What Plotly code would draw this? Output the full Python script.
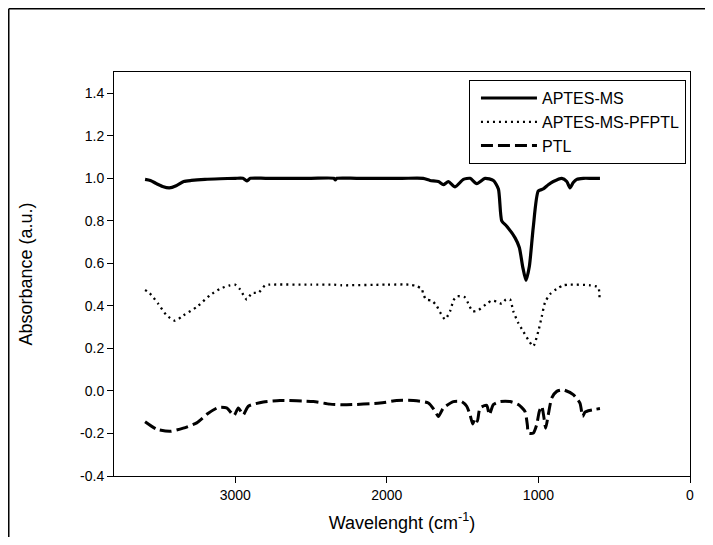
import plotly.graph_objects as go

# ---- data ----
aptes_x = [3595, 3560, 3520, 3480, 3435, 3390, 3340, 3290, 3200, 3100, 3000, 2950, 2924, 2900, 2800,
           2500, 2350, 2340, 2330, 2200, 1900, 1760, 1715, 1660, 1627, 1594, 1550, 1495, 1451, 1407,
           1352, 1297, 1264, 1242, 1209, 1154, 1126, 1104, 1082, 1060, 1034, 1001, 968, 935, 902,
           846, 813, 792, 770, 747, 704, 650, 594]
aptes_y = [0.995, 0.99, 0.975, 0.962, 0.955, 0.965, 0.985, 0.99, 0.995, 0.998, 1.0, 1.0, 0.988, 1.0, 1.0,
           1.0, 1.0, 0.993, 1.0, 1.0, 1.0, 1.0, 0.99, 0.985, 0.97, 0.985, 0.96, 0.995, 1.0, 0.975,
           1.0, 0.99, 0.95, 0.80, 0.775, 0.72, 0.675, 0.585, 0.52, 0.585, 0.77, 0.94, 0.95, 0.97, 0.985,
           1.0, 0.985, 0.955, 0.98, 0.995, 1.0, 1.0, 1.0]

pfptl_x = [3595, 3565, 3508, 3452, 3397, 3343, 3254, 3167, 3101, 3035, 3002, 2969, 2924, 2891, 2847,
           2803, 2771, 2500, 2350, 2300, 2000, 1850, 1803, 1770, 1759, 1741, 1704, 1671, 1649, 1616,
           1583, 1561, 1539, 1484, 1462, 1434, 1397, 1341, 1308, 1275, 1242, 1214, 1187, 1166, 1133,
           1100, 1067, 1034, 1001, 978, 957, 924, 879, 836, 792, 660, 605, 598, 596]
pfptl_y = [0.475, 0.46, 0.41, 0.355, 0.33, 0.355, 0.395, 0.45, 0.48, 0.497, 0.5, 0.478, 0.43, 0.46, 0.462,
           0.497, 0.5, 0.5, 0.5, 0.497, 0.5, 0.5, 0.493, 0.48, 0.455, 0.43, 0.425, 0.40, 0.37, 0.337,
           0.375, 0.425, 0.445, 0.44, 0.41, 0.375, 0.38, 0.41, 0.425, 0.42, 0.41, 0.43, 0.43, 0.375, 0.32,
           0.28, 0.24, 0.21, 0.28, 0.35, 0.415, 0.455, 0.48, 0.497, 0.5, 0.497, 0.488, 0.455, 0.425]

ptl_x = [3595, 3518, 3430, 3343, 3254, 3178, 3112, 3057, 3008, 2980, 2947, 2914, 2815, 2705, 2485,
         2375, 2265, 2045, 1935, 1825, 1726, 1682, 1660, 1627, 1561, 1506, 1473, 1451, 1434, 1418,
         1403, 1385, 1341, 1324, 1297, 1253, 1187, 1133, 1089, 1073, 1067, 1050, 1034, 1012, 994,
         978, 963, 952, 935, 912, 879, 836, 770, 726, 708, 693, 671, 638, 594]
ptl_y = [-0.145, -0.18, -0.19, -0.175, -0.15, -0.105, -0.078, -0.08, -0.115, -0.08, -0.112, -0.072, -0.052, -0.045, -0.05,
         -0.062, -0.065, -0.057, -0.045, -0.045, -0.057, -0.095, -0.12, -0.08, -0.05, -0.05, -0.072, -0.112, -0.155, -0.128,
         -0.143, -0.08, -0.068, -0.112, -0.064, -0.05, -0.05, -0.064, -0.096, -0.16, -0.198, -0.2, -0.198, -0.16, -0.096,
         -0.072, -0.128, -0.175, -0.112, -0.033, -0.002, 0.005, -0.017, -0.057, -0.12, -0.1, -0.093, -0.088, -0.083]

series_names = ["APTES-MS", "APTES-MS-PFPTL", "PTL"]
x_ticks = [3000, 2000, 1000, 0]
y_ticks = [-0.4, -0.2, 0.0, 0.2, 0.4, 0.6, 0.8, 1.0, 1.2, 1.4]

FONT = "Liberation Sans, Arial, sans-serif"

fig = go.Figure()
fig.add_trace(go.Scatter(x=aptes_x, y=aptes_y, mode="lines", name=series_names[0],
                         line=dict(color="black", width=3.2, shape="spline", smoothing=0.6)))
fig.add_trace(go.Scatter(x=pfptl_x, y=pfptl_y, mode="lines", name=series_names[1],
                         line=dict(color="black", width=2.3, dash="2px,4px", shape="spline", smoothing=0.6)))
fig.add_trace(go.Scatter(x=ptl_x, y=ptl_y, mode="lines", name=series_names[2],
                         line=dict(color="black", width=3, dash="12px,5px", shape="spline", smoothing=0.6)))

axis_common = dict(showgrid=False, zeroline=False, showline=True, linecolor="black", linewidth=1,
                   mirror=True, ticks="outside", ticklen=6, tickcolor="black", tickwidth=1,
                   automargin=False, tickfont=dict(family=FONT, size=14, color="black"))

# the page body adds an 8px offset, so the figure is kept smaller than the window
fig.update_layout(
    template="none",
    width=705, height=529,
    margin=dict(l=106, r=23, t=64, b=61, pad=0),
    paper_bgcolor="white", plot_bgcolor="white",
    font=dict(family=FONT, size=14, color="black"),
    showlegend=True,
    legend=dict(x=0.993, y=0.98, xanchor="right", yanchor="top",
                bordercolor="black", borderwidth=1, bgcolor="white",
                font=dict(family=FONT, size=16, color="black"), itemwidth=56,
                indentation=6, tracegroupgap=0),
    xaxis=dict(range=[3800, 0], tickvals=x_ticks, ticktext=[str(v) for v in x_ticks],
               title=dict(text="Wavelenght (cm<sup>-1</sup>)", font=dict(family=FONT, size=18, color="black"),
                          standoff=14),
               **axis_common),
    yaxis=dict(range=[-0.4, 1.5], tickvals=y_ticks, ticktext=["%.1f" % v for v in y_ticks],
               title=dict(text="Absorbance (a.u.)", font=dict(family=FONT, size=18, color="black"),
                          standoff=42),
               **axis_common),
    shapes=[
        dict(type="line", xref="paper", yref="paper", x0=-0.1827, x1=1.2, y0=1.1566, y1=1.1566,
             line=dict(color="black", width=1.5)),
        dict(type="line", xref="paper", yref="paper", x0=-0.1827, x1=-0.1827, y0=1.1566, y1=-0.3,
             line=dict(color="black", width=1.5)),
    ],
)

fig.write_html("out.html")
